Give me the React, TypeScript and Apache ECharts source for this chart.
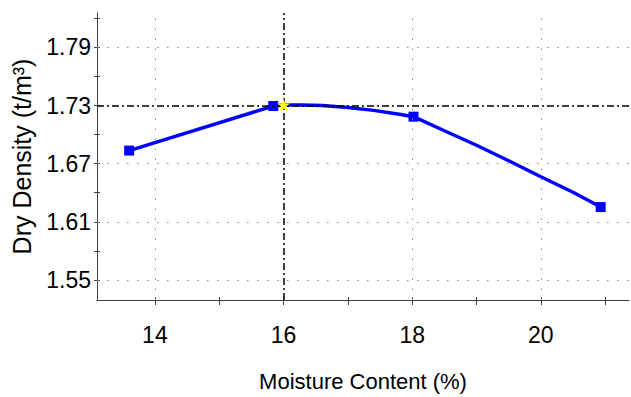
import React, { useEffect, useRef } from "react";
import * as echarts from "echarts";

// Measured compaction points
const moisture = [13.6, 15.84, 18.02, 20.93];
const density = [1.6835, 1.7295, 1.7185, 1.6252];

// Fitted curve
const curveX = [13.6, 15.84, 16.0, 16.3, 16.6, 17.0, 17.4, 17.8, 18.02, 18.5, 19.0, 19.5, 20.0, 20.5, 20.93];
const curveY = [1.6835, 1.7295, 1.7305, 1.7305, 1.7300, 1.7280, 1.7250, 1.7210, 1.7185, 1.7040, 1.6890, 1.6730, 1.6565, 1.6405, 1.6252];

// Optimum (max dry density)
const optMoisture = 16.0;
const maxDensity = 1.7305;

// Axis ticks
const xLabels = [14, 16, 18, 20];
const xTicks = [14, 15, 16, 17, 18, 19, 20, 21];
const yLabels = [1.55, 1.61, 1.67, 1.73, 1.79];
const yTicks = [1.55, 1.58, 1.61, 1.64, 1.67, 1.7, 1.73, 1.76, 1.79, 1.82];
const xGrid = [14, 18, 20];
const yGrid = [1.55, 1.61, 1.67, 1.79];

const X_MIN = 13.1;
const X_MAX = 21.37;
const Y_MIN = 1.5293;
const Y_MAX = 1.8255;

const FONT = "'Liberation Sans', Arial, Helvetica, sans-serif";
const STAR =
  "path://M50,0 L61.8,36.2 L100,36.2 L69.1,58.6 L80.9,95.1 L50,72.7 L19.1,95.1 L30.9,58.6 L0,36.2 L38.2,36.2 Z";

export default function App() {
  const ref = useRef<HTMLDivElement>(null);
  useEffect(() => {
    if (!ref.current) return;
    const chart = echarts.init(ref.current, null, { renderer: "svg" });
    const dotted = { type: [1.5, 8.5] as any, color: "#8a8a8a", width: 1 };
    const dashDot = { type: [7, 3, 2, 3] as any, color: "#000", width: 1.5 };
    const axisLine = { show: true, lineStyle: { color: "#404040", width: 1 } };
    chart.setOption({
      animation: false,
      backgroundColor: "#fff",
      grid: { left: 97, right: 2, top: 13, bottom: 97, containLabel: false },
      xAxis: [
        {
          type: "value",
          min: X_MIN,
          max: X_MAX,
          name: "Moisture Content (%)",
          nameLocation: "middle",
          nameGap: 70,
          nameTextStyle: { fontFamily: FONT, fontSize: 22, color: "#000" },
          axisLine,
          axisTick: { show: true, inside: false, length: 5, customValues: xTicks, lineStyle: { color: "#404040" } },
          axisLabel: { customValues: xLabels, margin: 23, fontFamily: FONT, fontSize: 23, color: "#000" },
          splitLine: { show: false },
        },
        {
          type: "value",
          min: X_MIN,
          max: X_MAX,
          position: "bottom",
          axisLine: { show: false },
          axisTick: { show: true, inside: true, length: 3, customValues: xTicks, lineStyle: { color: "#404040" } },
          axisLabel: { show: false },
          splitLine: { show: false },
        },
      ],
      yAxis: [
        {
          type: "value",
          min: Y_MIN,
          max: Y_MAX,
          name: "Dry Density (t/m³)",
          nameLocation: "middle",
          nameGap: 63,
          nameTextStyle: { fontFamily: FONT, fontSize: 25, color: "#000" },
          axisLine,
          axisTick: { show: true, inside: false, length: 3, customValues: yTicks, lineStyle: { color: "#404040" } },
          axisLabel: {
            customValues: yLabels,
            margin: 6,
            fontFamily: FONT,
            fontSize: 23,
            color: "#000",
            formatter: (v: number) => v.toFixed(2),
          },
          splitLine: { show: false },
        },
        {
          type: "value",
          min: Y_MIN,
          max: Y_MAX,
          position: "left",
          axisLine: { show: false },
          axisTick: { show: true, inside: true, length: 3, customValues: yTicks, lineStyle: { color: "#404040" } },
          axisLabel: { show: false },
          splitLine: { show: false },
        },
      ],
      series: [
        {
          type: "line",
          name: "grid",
          data: [],
          silent: true,
          markLine: {
            silent: true,
            symbol: "none",
            label: { show: false },
            animation: false,
            data: [
              ...xGrid.map((v) => ({ xAxis: v, lineStyle: dotted })),
              ...yGrid.map((v) => ({ yAxis: v, lineStyle: dotted })),
              { xAxis: optMoisture, lineStyle: dashDot },
              { yAxis: maxDensity - 0.0005, lineStyle: dashDot },
            ],
          },
          z: 1,
        },
        {
          type: "line",
          name: "curve",
          data: curveX.map((x, i) => [x, curveY[i]]),
          showSymbol: false,
          symbol: "none",
          lineStyle: { color: "#0000ff", width: 3.5 },
          z: 3,
        },
        {
          type: "scatter",
          name: "measured",
          data: moisture.map((x, i) => [x, density[i]]),
          symbol: "rect",
          symbolSize: 10,
          itemStyle: { color: "#0000ff", opacity: 1 },
          z: 4,
        },
        {
          type: "scatter",
          name: "optimum",
          data: [[optMoisture, maxDensity]],
          symbol: STAR,
          symbolSize: 13,
          itemStyle: { color: "#ffff00", opacity: 1 },
          z: 5,
        },
      ],
    });
    return () => chart.dispose();
  }, []);
  return <div ref={ref} style={{ width: 631, height: 397, position: "absolute", left: 0, top: 0 }} />;
}
